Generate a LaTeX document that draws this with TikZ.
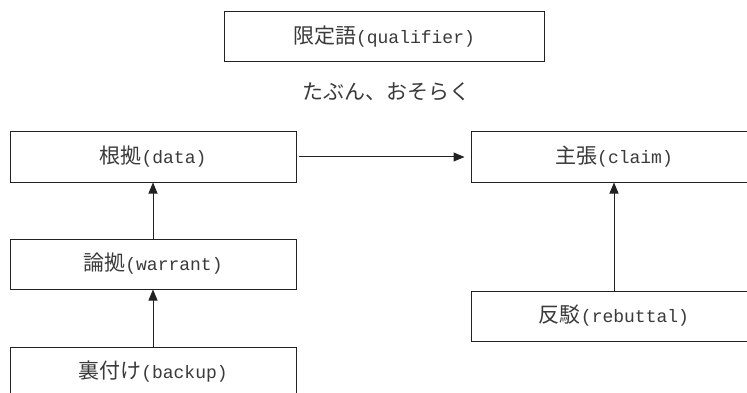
\documentclass[tikz,border=0pt]{standalone}
\usepackage{fontspec}
\newfontfamily\jp{Noto Sans CJK JP}
\newfontfamily\lm{Liberation Mono}
\usetikzlibrary{arrows.meta}
\definecolor{ink}{HTML}{222222}
\definecolor{txt}{HTML}{3a3a3a}
\newcommand{\lat}[1]{{\lm\fontsize{18}{21}\selectfont #1}}
\begin{document}
\begin{tikzpicture}[x=1pt,y=-1pt,
  box/.style={draw=ink,line width=1pt,minimum height=50pt,inner sep=0pt,text=txt,font=\fontsize{21}{25}\selectfont},
  wide/.style={box,minimum width=286pt},
  conn/.style={draw=ink,line width=1pt,-{Triangle[length=11pt,width=9pt]}}]
\useasboundingbox (0,0) rectangle (747,393);
\clip (0,0) rectangle (747,393);
\fill[white] (0,0) rectangle (747,393);
\node[box,minimum width=320pt] (qual) at (384,37) {{\jp 限定語}\lat{(qualifier)}};
\node[text=txt,font=\fontsize{21}{25}\selectfont,inner sep=0pt] (maybe) at (386,92) {\jp たぶん、おそらく};
\node[wide] (data) at (153,157) {{\jp 根拠}\lat{(data)}};
\node[wide] (claim) at (614,157) {{\jp 主張}\lat{(claim)}};
\node[wide] (warrant) at (153,264) {{\jp 論拠}\lat{(warrant)}};
\node[wide] (rebuttal) at (614,316) {{\jp 反駁}\lat{(rebuttal)}};
\node[wide] (backup) at (153,372) {{\jp 裏付け}\lat{(backup)}};
\draw[conn,shorten <=2pt,shorten >=6pt] (data.east) -- (claim.west);
\draw[conn] (warrant.north) -- (data.south);
\draw[conn] (backup.north) -- (warrant.south);
\draw[conn] (rebuttal.north) -- (claim.south);
\end{tikzpicture}
\end{document}
